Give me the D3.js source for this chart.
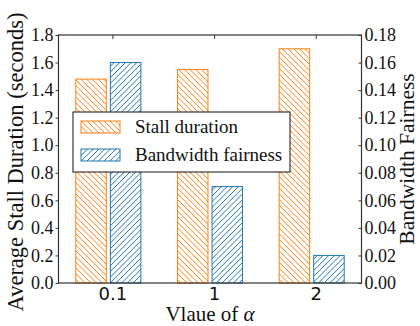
<!DOCTYPE html>
<html><head><meta charset="utf-8">
<script src="https://cdn.jsdelivr.net/npm/d3@7"></script>
<style>body{margin:0;background:#fff}svg{display:block}</style>
</head><body>
<svg id="c" width="420" height="326"></svg>
<script>
const categories = ["0.1", "1", "2"];
const stallDuration = [1.48, 1.55, 1.70];
const bandwidthFairness = [0.16, 0.07, 0.02];
const leftTicks = [0, 0.2, 0.4, 0.6, 0.8, 1.0, 1.2, 1.4, 1.6, 1.8];
const rightTicks = [0, 0.02, 0.04, 0.06, 0.08, 0.10, 0.12, 0.14, 0.16, 0.18];
const seriesNames = ["Stall duration", "Bandwidth fairness"];

const m = {l: 58.5, r: 361.5, t: 35, b: 283};
const orange = "#ff7f0e", blue = "#1f77b4";
const SERIF = "Liberation Serif, Tinos, Times New Roman, Times, DejaVu Serif, Noto Serif, serif";
const SANS = "DejaVu Sans, Verdana, sans-serif";

const svg = d3.select("#c");

const x = d3.scaleLinear().domain([-0.53, 2.45]).range([m.l, m.r]);
const yL = d3.scaleLinear().domain([0, 1.8]).range([m.b, m.t]);
const yR = d3.scaleLinear().domain([0, 0.18]).range([m.b, m.t]);
const bw = 0.30;

let cid = 0;
function hatchedRect(parent, rx, ry, rw, rh, color, dir) {
  const id = "clip" + (cid++);
  parent.append("clipPath").attr("id", id).append("rect")
    .attr("x", rx).attr("y", ry).attr("width", rw).attr("height", rh);
  const hg = parent.append("g").attr("clip-path", `url(#${id})`);
  const step = 5.7;
  const span = rw + rh;
  const lines = d3.range(-span, span + step, step);
  hg.selectAll("line").data(lines).join("line")
    .attr("x1", d => rx + d).attr("y1", dir === "back" ? ry : ry + rh)
    .attr("x2", d => rx + d + rh).attr("y2", dir === "back" ? ry + rh : ry)
    .attr("stroke", color).attr("stroke-width", 1);
  parent.append("rect").attr("x", rx).attr("y", ry).attr("width", rw).attr("height", rh)
    .attr("fill", "none").attr("stroke", color).attr("stroke-width", 1);
}

const g = svg.append("g");
const wpx = x(bw) - x(0);
stallDuration.forEach((d, i) => hatchedRect(g, x(i - 0.36), yL(d), wpx, yL(0) - yL(d), orange, "back"));
bandwidthFairness.forEach((d, i) => hatchedRect(g, x(i - 0.02), yR(d), wpx, yR(0) - yR(d), blue, "fwd"));

const axL = d3.axisLeft(yL).tickValues(leftTicks).tickFormat(d3.format(".1f")).tickSize(3).tickPadding(2);
const axR = d3.axisRight(yR).tickValues(rightTicks).tickFormat(d3.format(".2f")).tickSize(-3).tickPadding(3);
const axB = d3.axisBottom(x).tickValues([0, 1, 2]).tickFormat((d) => categories[d]).tickSize(0).tickPadding(4);
const axT = d3.axisTop(x).tickValues([0, 1, 2]).tickFormat("").tickSize(-4);

function style(sel, font, size) {
  sel.select(".domain").remove();
  sel.attr("font-family", font).attr("font-size", size);
  sel.selectAll("line").attr("stroke", "#333");
  sel.selectAll("text").attr("font-family", font).attr("font-size", size).attr("fill", "#111");
}
const gL = svg.append("g").attr("transform", `translate(${m.l},0)`).call(axL); style(gL, SERIF, 18);
const gR = svg.append("g").attr("transform", `translate(${m.r},0)`).call(axR); style(gR, SERIF, 18);
const gB = svg.append("g").attr("transform", `translate(0,${m.b})`).call(axB); style(gB, SANS, 18);
const gT = svg.append("g").attr("transform", `translate(0,${m.t})`).call(axT); style(gT, SANS, 18);

svg.append("rect").attr("x", m.l).attr("y", m.t).attr("width", m.r - m.l).attr("height", m.b - m.t)
  .attr("fill", "none").attr("stroke", "#333").attr("stroke-width", 1.2);

svg.append("text").attr("font-family", SERIF).attr("transform", `translate(23,${(m.t + m.b) / 2 + 3}) rotate(-90)`)
  .attr("text-anchor", "middle").attr("font-size", 22.5).attr("fill", "#111")
  .text("Average Stall Duration (seconds)");
svg.append("text").attr("font-family", SERIF).attr("transform", `translate(414,${(m.t + m.b) / 2}) rotate(-90)`)
  .attr("text-anchor", "middle").attr("font-size", 21.5).attr("fill", "#111")
  .text("Bandwidth Fairness");
const xl = svg.append("text").attr("font-family", SERIF).attr("x", (m.l + m.r) / 2).attr("y", 321)
  .attr("text-anchor", "middle").attr("font-size", 21).attr("fill", "#111");
xl.append("tspan").text("Vlaue of ");
xl.append("tspan").attr("font-style", "italic").text("α");

const lg = svg.append("g");
lg.append("rect").attr("x", 73).attr("y", 112).attr("width", 217).attr("height", 60)
  .attr("fill", "#fff").attr("stroke", "#111").attr("stroke-width", 1);
const strokes = [orange, blue], dirs = ["back", "fwd"];
seriesNames.forEach((n, i) => {
  hatchedRect(lg, 81, 121 + i * 28, 39, 12, strokes[i], dirs[i]);
  lg.append("text").attr("font-family", SERIF).attr("x", 135).attr("y", 133 + i * 27.5)
    .attr("font-size", 19).attr("fill", "#111").text(n);
});
</script>
</body></html>
